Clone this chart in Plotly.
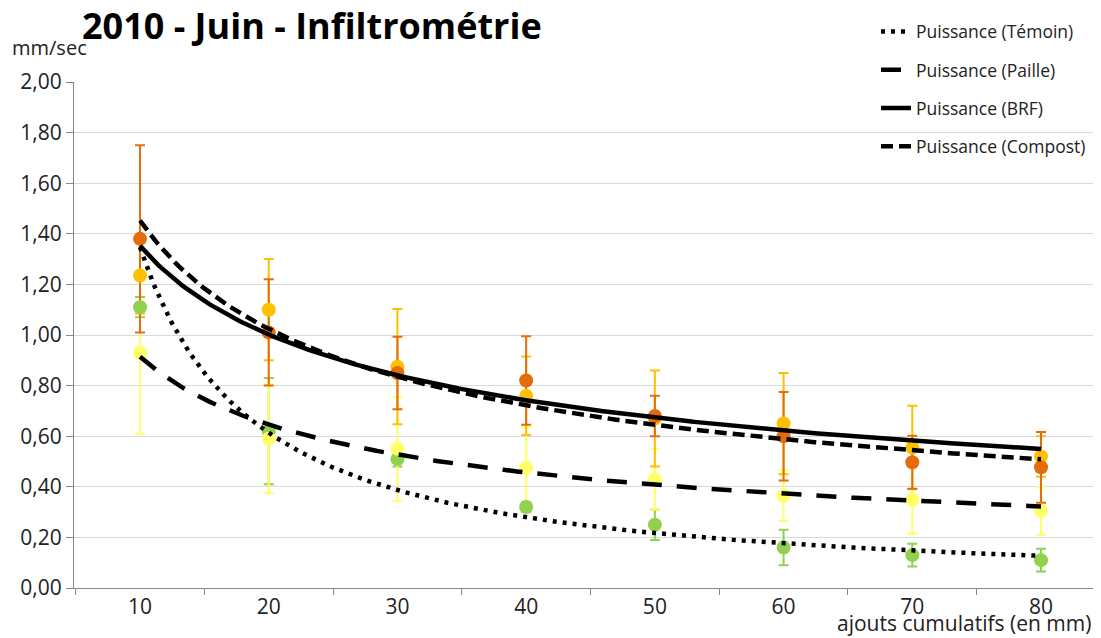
import numpy as np
import plotly.graph_objects as go

# ---- data ----
doses = [10, 20, 30, 40, 50, 60, 70, 80]  # ajouts cumulatifs (mm)

temoin = [1.11, 0.62, 0.51, 0.32, 0.25, 0.16, 0.13, 0.11]
temoin_err = [0.04, 0.21, 0.03, 0.02, 0.06, 0.07, 0.045, 0.045]

paille = [0.93, 0.59, 0.55, 0.475, 0.43, 0.365, 0.35, 0.305]
paille_err = [0.32, 0.215, 0.205, 0.16, 0.12, 0.10, 0.135, 0.095]

brf = [1.235, 1.10, 0.875, 0.76, 0.67, 0.65, 0.555, 0.52]
brf_err = [0.15, 0.20, 0.228, 0.155, 0.19, 0.20, 0.165, 0.08]

compost = [1.38, 1.01, 0.85, 0.82, 0.68, 0.60, 0.497, 0.477]
compost_err = [0.37, 0.21, 0.143, 0.175, 0.08, 0.175, 0.105, 0.14]

x_ticks = ["10", "20", "30", "40", "50", "60", "70", "80"]

series = [
    ("Témoin", temoin, temoin_err, "#92D050", "4px,6px"),
    ("Paille", paille, paille_err, "#FFFF66", "20px,15px"),
    ("BRF", brf, brf_err, "#FFC000", "solid"),
    ("Compost", compost, compost_err, "#E46C0A", "12px,6px"),
]

fig = go.Figure()

# error bars first (all series), then markers, then trend lines
for name, vals, err, col, dash in series:
    fig.add_trace(go.Scatter(
        x=doses, y=vals, mode="markers",
        marker=dict(size=1, color="rgba(0,0,0,0)"),
        error_y=dict(type="data", array=err, visible=True, color=col,
                     thickness=2, width=5),
        showlegend=False, hoverinfo="skip"))

for name, vals, err, col, dash in series:
    fig.add_trace(go.Scatter(
        x=doses, y=vals, mode="markers", name=name,
        marker=dict(size=14, color=col),
        showlegend=False))

# power trendlines (least squares in log space, as the spreadsheet does)
xd = np.linspace(doses[0], doses[-1], 300)
for i, (name, vals, err, col, dash) in enumerate(series):
    b, lna = np.polyfit(np.log(doses), np.log(vals), 1)
    yd = np.exp(lna) * xd ** b
    fig.add_trace(go.Scatter(
        x=xd, y=yd, mode="lines", name=f"Puissance ({name})",
        line=dict(color="black", width=4.5, dash=dash),
        legendgroup=f"g{i}", hoverinfo="skip"))

FONT = "Open Sans, Liberation Sans, sans-serif"
W, H = 1085, 630          # page adds an 8px body margin
L, T, B = 66, 74, 50
PW, PH = W - L, H - T - B

fig.update_layout(
    width=W, height=H,
    paper_bgcolor="white", plot_bgcolor="white",
    margin=dict(l=L, r=0, t=T, b=B, autoexpand=False),
    separators=", ",
    font=dict(family=FONT, size=21, color="#222222"),
    title=dict(text="<b>2010 - Juin - Infiltrométrie</b>",
               font=dict(family=FONT, size=36, color="black"),
               x=74 / W, xanchor="left", xref="container",
               y=1 - 18 / H, yanchor="middle", yref="container"),
    legend=dict(x=868 / W, xanchor="left", xref="container",
                y=1 - 5.7 / H, yanchor="top", yref="container",
                bgcolor="rgba(0,0,0,0)", tracegroupgap=12.5,
                font=dict(family=FONT, size=17.5, color="#222222")),
    xaxis=dict(range=[4.87, 84.04], tickvals=doses, ticktext=x_ticks,
               ticks="", showgrid=False, zeroline=False,
               showline=True, linecolor="#868686", linewidth=1,
               minor=dict(tickvals=[5, 15, 25, 35, 45, 55, 65, 75],
                          ticks="outside", ticklen=6, tickcolor="#868686"),
               tickfont=dict(size=21)),
    yaxis=dict(range=[0, 2], dtick=0.2, tickformat=".2f",
               showgrid=True, gridcolor="#D9D9D9", gridwidth=1,
               zeroline=False, showline=True, linecolor="#868686",
               linewidth=1, ticks="outside", ticklen=7,
               tickcolor="#868686", tickfont=dict(size=21)),
    annotations=[
        dict(text="mm/sec", xref="paper", yref="paper", x=(2 - L) / PW,
             y=(T + PH - 40) / PH, xanchor="left", yanchor="middle",
             showarrow=False, font=dict(family=FONT, size=20, color="#222222")),
        dict(text="ajouts cumulatifs (en mm)", xref="paper", yref="paper",
             x=1, y=-(B + 1) / PH, xanchor="right", yanchor="bottom",
             showarrow=False, font=dict(family=FONT, size=21, color="#222222")),
    ],
)

fig.write_html("out.html")
